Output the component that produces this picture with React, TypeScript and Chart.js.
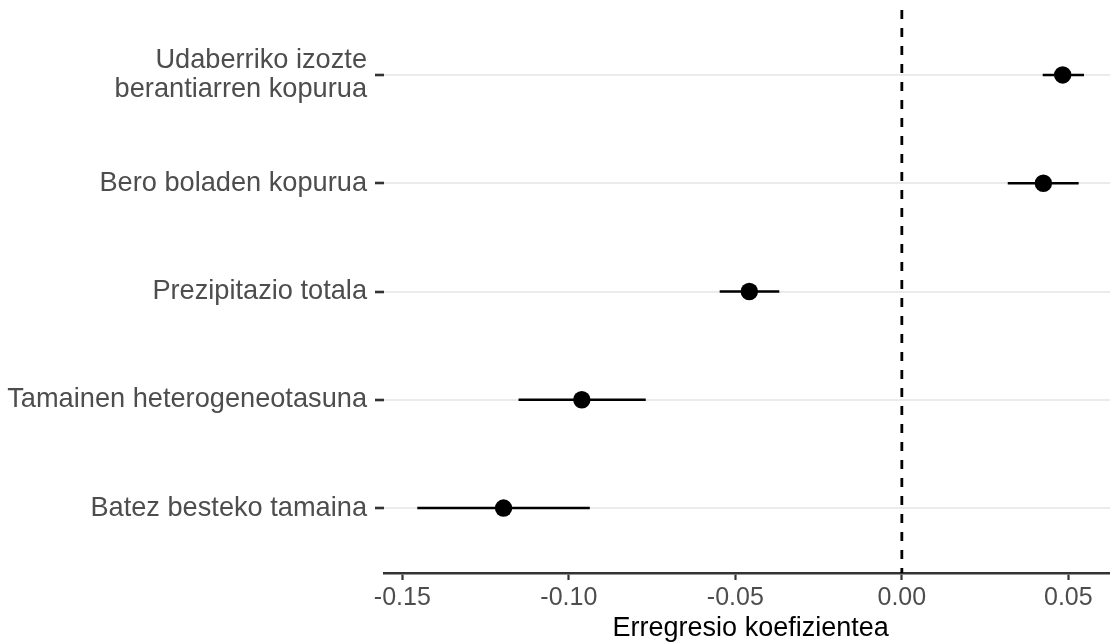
import React, { useEffect, useRef } from "react";
import { Chart, registerables } from "chart.js";

Chart.register(...registerables);

// Predictors, top to bottom
const predictors: (string | string[])[] = [
  ["Udaberriko izozte", "berantiarren kopurua"],
  "Bero boladen kopurua",
  "Prezipitazio totala",
  "Tamainen heterogeneotasuna",
  "Batez besteko tamaina",
];

// Regression coefficients and their interval bounds
const estimate = [0.0483, 0.0425, -0.0458, -0.0961, -0.1196];
const lower = [0.0423, 0.0318, -0.0547, -0.1151, -0.1455];
const upper = [0.0547, 0.0531, -0.0368, -0.0769, -0.0937];

const xTicks = [-0.15, -0.1, -0.05, 0, 0.05];
const xMin = -0.1555;
const xMax = 0.0647;

const FONT = "'Liberation Sans', Arial, Helvetica, sans-serif";
const WIDTH = 1126;
const HEIGHT = 643;

export default function App() {
  const canvasRef = useRef<HTMLCanvasElement | null>(null);

  useEffect(() => {
    const canvas = canvasRef.current;
    if (!canvas) return;

    const rowIndex = predictors.map((_, i) => i + 1);

    const intervalSets = rowIndex.map((row, i) => ({
      type: "line" as const,
      data: [
        { x: lower[i], y: row },
        { x: upper[i], y: row },
      ],
      borderColor: "#000000",
      borderWidth: 2.6,
      pointRadius: 0,
      pointHoverRadius: 0,
      fill: false,
      order: 2,
    }));

    const chart = new Chart(canvas, {
      type: "scatter",
      data: {
        datasets: [
          {
            type: "line" as const,
            data: [
              { x: 0, y: 0.4 },
              { x: 0, y: 5.6 },
            ],
            borderColor: "#000000",
            borderWidth: 2.8,
            borderDash: [9, 9],
            pointRadius: 0,
            fill: false,
            order: 3,
          },
          ...intervalSets,
          {
            type: "scatter" as const,
            data: rowIndex.map((row, i) => ({ x: estimate[i], y: row })),
            backgroundColor: "#000000",
            borderWidth: 0,
            pointRadius: 8.7,
            pointHoverRadius: 8.7,
            order: 1,
          },
        ],
      },
      options: {
        responsive: false,
        animation: false,
        layout: { padding: { top: 10, right: 0, bottom: 0, left: 0 } },
        plugins: {
          legend: { display: false },
          tooltip: { enabled: false },
        },
        scales: {
          x: {
            type: "linear",
            min: xMin,
            max: xMax,
            afterBuildTicks: (scale: any) => {
              scale.ticks = xTicks.map((v) => ({ value: v }));
            },
            afterFit: (scale: any) => {
              scale.height = 70;
              scale.paddingLeft = 0;
              scale.paddingRight = 0;
            },
            ticks: {
              color: "#4d4d4d",
              font: { family: FONT, size: 25 },
              padding: 3,
              callback: (v: any) => Number(v).toFixed(2),
            },
            grid: {
              display: true,
              drawOnChartArea: false,
              drawTicks: true,
              tickLength: 7,
              tickWidth: 2.2,
              tickColor: "#333333",
            },
            border: { display: true, color: "#333333", width: 2.6 },
            title: {
              display: true,
              text: "Erregresio koefizientea",
              color: "#000000",
              font: { family: FONT, size: 27 },
              padding: { top: 0, bottom: -2 },
            },
          },
          y: {
            type: "linear",
            reverse: true,
            min: 0.4,
            max: 5.6,
            afterBuildTicks: (scale: any) => {
              scale.ticks = rowIndex.map((v) => ({ value: v }));
            },
            afterFit: (scale: any) => {
              scale.width = 384;
              scale.paddingTop = 0;
              scale.paddingBottom = 0;
            },
            ticks: {
              color: "#4d4d4d",
              font: { family: FONT, size: 27.2, lineHeight: 1.08 },
              padding: 8,
              callback: (v: any) => predictors[Number(v) - 1] as any,
            },
            grid: {
              display: true,
              color: "#ebebeb",
              lineWidth: 2,
              drawTicks: true,
              tickLength: 9,
              tickWidth: 2.6,
              tickColor: "#333333",
            },
            border: { display: false },
          },
        },
      },
    });

    return () => chart.destroy();
  }, []);

  return (
    <div
      style={{
        position: "fixed",
        left: 0,
        top: 0,
        width: 1110,
        height: HEIGHT,
        overflow: "hidden",
        background: "#ffffff",
      }}
    >
      <canvas ref={canvasRef} width={WIDTH} height={HEIGHT} style={{ display: "block" }} />
    </div>
  );
}
